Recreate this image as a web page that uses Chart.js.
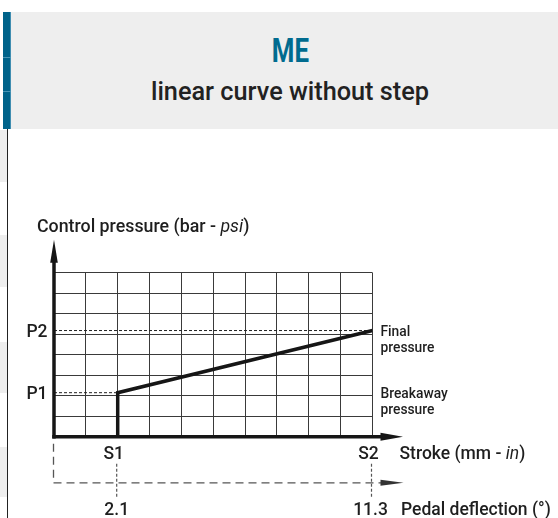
<!DOCTYPE html>
<html>
<head>
<meta charset="utf-8">
<script src="https://cdn.jsdelivr.net/npm/chart.js@4/dist/chart.umd.min.js"></script>
<style>
html,body{margin:0;padding:0;background:#fff;}
body{width:558px;height:518px;overflow:hidden;position:relative;font-family:Roboto,"Liberation Sans",sans-serif;}
#band{position:absolute;left:3px;top:12px;width:555px;height:117px;background:#eeeeee;}
#bar{position:absolute;left:3px;top:12px;width:8px;height:117px;background:#00638a;box-shadow:inset -1px 0 0 #3f8db0;}
.barline{position:absolute;left:3px;width:8px;height:1px;background:#4a95b5;}
#title{position:absolute;left:0;top:30px;width:580px;text-align:center;font-family:Roboto,"Liberation Sans",sans-serif;font-weight:bold;font-size:34px;line-height:40px;color:#006b8f;}
#title span{display:inline-block;transform:scaleX(0.76);}
#sub{position:absolute;left:0;top:77px;width:580px;text-align:center;font-family:Roboto,"Liberation Sans",sans-serif;font-weight:500;font-size:25.3px;line-height:30px;color:#222;}
#vline{position:absolute;left:7px;top:129px;width:1px;height:389px;background:#222;}
.gblk{position:absolute;left:0;width:7px;background:#eeeeee;}
canvas{position:absolute;left:0;top:0;}
</style>
</head>
<body>
<div id="band"></div>
<div id="bar"></div>
<div class="barline" style="top:57px"></div>
<div class="barline" style="top:91px"></div>
<div id="title"><span>ME</span></div>
<div id="sub">linear curve without step</div>
<div class="gblk" style="top:130px;height:52px"></div>
<div class="gblk" style="top:235px;height:52px"></div>
<div class="gblk" style="top:342px;height:51px"></div>
<div class="gblk" style="top:447px;height:50px"></div>
<div id="vline"></div>
<canvas id="c" width="558" height="518"></canvas>
<script>
// ---- data ----
const strokeRange = [0, 10];          // grid columns (stroke axis)
const pressureRange = [0, 8];         // grid rows (pressure axis)
const strokeMarks = ['S1', 'S2'];
const strokeValues = [2, 10];
const pressureMarks = ['P1', 'P2'];
const pressureValues = [2.15, 5.18];
const pressureNotes = [['Breakaway', 'pressure'], ['Final', 'pressure']];
const pedalValues = ['2.1', '11.3'];
const curveStroke = [2, 2, 10];
const curvePressure = [0, 2.15, 5.18];
const yAxisTitle = ['Control pressure (bar - ', 'psi', ')'];
const xAxisTitle = ['Stroke (mm - ', 'in', ')'];
const pedalTitle = 'Pedal deflection (°)';

const INK = '#161616';
const FONT = 'Roboto, "Liberation Sans", sans-serif';

function richText(ctx, parts, x, y, size) {
  let cx = x;
  parts.forEach((p, i) => {
    ctx.font = (i === 1 ? 'italic 400 ' : '500 ') + size + 'px ' + FONT;
    ctx.fillText(p, cx, y);
    cx += ctx.measureText(p).width;
  });
}

const overlay = {
  id: 'overlay',
  afterDatasetsDraw(chart) {
    const {ctx, scales: {x, y}, chartArea: a} = chart;
    const x0 = x.getPixelForValue(strokeRange[0]);
    const y0 = y.getPixelForValue(pressureRange[0]);
    ctx.save();
    ctx.strokeStyle = INK; ctx.fillStyle = INK;
    // y axis + arrow
    ctx.lineWidth = 3.5;
    ctx.beginPath(); ctx.moveTo(x0, y0 + 1.75); ctx.lineTo(x0, a.top - 12); ctx.stroke();
    ctx.beginPath(); ctx.moveTo(x0 - 3.8, a.top - 10); ctx.lineTo(x0, a.top - 33); ctx.lineTo(x0 + 3.8, a.top - 10); ctx.closePath(); ctx.fill();
    // x axis + arrow
    ctx.beginPath(); ctx.moveTo(x0 - 1.75, y0); ctx.lineTo(a.right + 10, y0); ctx.stroke();
    ctx.beginPath(); ctx.moveTo(a.right + 8, y0 - 4); ctx.lineTo(a.right + 30.5, y0); ctx.lineTo(a.right + 8, y0 + 4); ctx.closePath(); ctx.fill();

    // bottom dashed guide (pedal deflection)
    const gy = y0 + 46;
    ctx.strokeStyle = '#555'; ctx.fillStyle = '#333';
    ctx.lineWidth = 1.3;
    ctx.setLineDash([8, 5]);
    ctx.beginPath(); ctx.moveTo(x0 - 0.5, y0 + 7); ctx.lineTo(x0 - 0.5, gy); ctx.lineTo(a.right + 9, gy); ctx.stroke();
    ctx.setLineDash([]);
    ctx.beginPath(); ctx.moveTo(a.right + 8, gy - 3); ctx.lineTo(a.right + 31, gy); ctx.lineTo(a.right + 8, gy + 3); ctx.closePath(); ctx.fill();
    ctx.setLineDash([3, 2]);
    ctx.lineWidth = 1.2;
    strokeValues.forEach((v, i) => {
      const px = x.getPixelForValue(v) - 1;
      ctx.beginPath(); ctx.moveTo(px, y0 + 27); ctx.lineTo(px, y0 + 62 - (i ? 2 : 0)); ctx.stroke();
    });
    ctx.setLineDash([]);

    // texts
    ctx.fillStyle = '#1e1e1e';
    ctx.textBaseline = 'alphabetic';
    ctx.textAlign = 'left';
    richText(ctx, yAxisTitle, 37, 231.5, 17.8);
    richText(ctx, xAxisTitle, a.right + 27, y0 + 22.5, 17.5);
    ctx.font = '500 17.5px ' + FONT;
    ctx.fillText(pedalTitle, a.right + 28.5, y0 + 78);
    ctx.font = '500 17.5px ' + FONT;
    ctx.textAlign = 'right';
    pressureMarks.forEach((m, i) => {
      ctx.fillText(m, x0 - 6.5, y.getPixelForValue(pressureValues[i]) + 6.5);
    });
    ctx.textAlign = 'center';
    strokeMarks.forEach((m, i) => {
      ctx.fillText(m, x.getPixelForValue(strokeValues[i]) - 4, y0 + 22.5);
    });
    pedalValues.forEach((m, i) => {
      ctx.fillText(m, x.getPixelForValue(strokeValues[i]) - (i ? 2 : 1), y0 + 78);
    });
    ctx.textAlign = 'left';
    ctx.font = '500 13.8px ' + FONT;
    pressureNotes.forEach((lines, i) => {
      const py = y.getPixelForValue(pressureValues[i]);
      lines.forEach((t, j) => ctx.fillText(t, a.right + 8, py + 5 + j * 16.5));
    });
    ctx.restore();
  }
};

const pts = (xs, ys) => xs.map((v, i) => ({x: v, y: ys[i]}));

new Chart(document.getElementById('c'), {
  type: 'scatter',
  data: {
    datasets: [
      {data: pts(curveStroke, curvePressure), showLine: true, borderColor: INK, borderWidth: 3.5,
       pointRadius: 0, borderJoinStyle: 'miter', borderCapStyle: 'butt', tension: 0},
      ...pressureValues.map((p, i) => ({
        data: pts([strokeRange[0], strokeValues[i]], [p, p]), showLine: true,
        borderColor: '#222', borderWidth: 1, borderDash: [3, 2], pointRadius: 0
      }))
    ]
  },
  options: {
    responsive: false,
    animation: false,
    devicePixelRatio: 1,
    layout: {padding: {left: 54, top: 272.7, right: 185.5, bottom: 81.2}},
    plugins: {legend: {display: false}, tooltip: {enabled: false}},
    scales: {
      x: {type: 'linear', min: strokeRange[0], max: strokeRange[1],
          ticks: {display: false, stepSize: 1}, grid: {color: '#3a3a3a', lineWidth: 1, drawTicks: false},
          border: {display: false}},
      y: {type: 'linear', min: pressureRange[0], max: pressureRange[1],
          ticks: {display: false, stepSize: 1}, grid: {color: '#3a3a3a', lineWidth: 1, drawTicks: false},
          border: {display: false}}
    }
  },
  plugins: [overlay]
});
</script>
</body>
</html>
